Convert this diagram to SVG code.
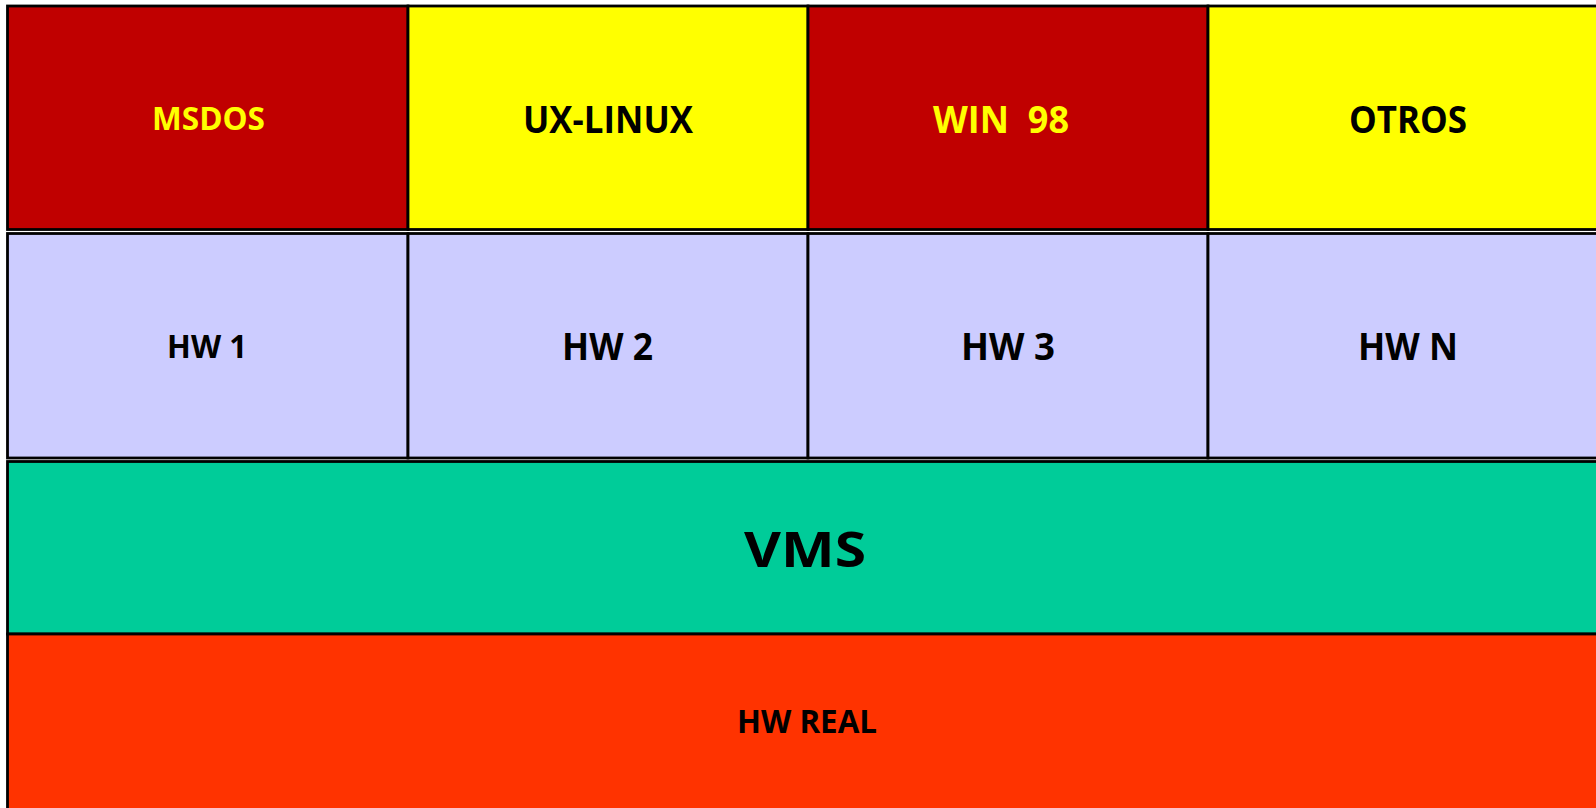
<svg xmlns="http://www.w3.org/2000/svg" width="1596" height="808" viewBox="0 0 1596 808">
<style>
.cell{stroke:#000;stroke-width:2.8}
.t{font-family:"Open Sans",Lato,"Liberation Sans",sans-serif;font-weight:bold}
.s{font-size:31.5px}
.m{font-size:37px}
.l{font-size:49px}
.dark{fill:#000}
.yel{fill:#FFFF00}
</style>
<rect width="1596" height="808" fill="#fff"/>
<g id="msdos"><rect class="cell" x="7.5" y="6" width="400.5" height="223.5" fill="#C00000"/><text class="t s yel" x="152" y="130" textLength="113" lengthAdjust="spacingAndGlyphs">MSDOS</text></g>
<g id="uxlinux"><rect class="cell" x="408" y="6" width="400" height="223.5" fill="#FFFF00"/><text class="t m dark" x="523" y="133" textLength="170" lengthAdjust="spacingAndGlyphs">UX-LINUX</text></g>
<g id="win98"><rect class="cell" x="808" y="6" width="400" height="223.5" fill="#C00000"/><text class="t m yel" x="933" y="133" textLength="136" lengthAdjust="spacingAndGlyphs" xml:space="preserve">WIN  98</text></g>
<g id="otros"><rect class="cell" x="1208" y="6" width="420" height="223.5" fill="#FFFF00"/><text class="t m dark" x="1349" y="133" textLength="118" lengthAdjust="spacingAndGlyphs">OTROS</text></g>
<g id="hw1"><rect class="cell" x="7.5" y="233.5" width="400.5" height="224.5" fill="#CCCCFF"/><text class="t s dark" x="167" y="358" textLength="80" lengthAdjust="spacingAndGlyphs">HW 1</text></g>
<g id="hw2"><rect class="cell" x="408" y="233.5" width="400" height="224.5" fill="#CCCCFF"/><text class="t m dark" x="562" y="360" textLength="91" lengthAdjust="spacingAndGlyphs">HW 2</text></g>
<g id="hw3"><rect class="cell" x="808" y="233.5" width="400" height="224.5" fill="#CCCCFF"/><text class="t m dark" x="961" y="360" textLength="94" lengthAdjust="spacingAndGlyphs">HW 3</text></g>
<g id="hwn"><rect class="cell" x="1208" y="233.5" width="420" height="224.5" fill="#CCCCFF"/><text class="t m dark" x="1358" y="360" textLength="100" lengthAdjust="spacingAndGlyphs">HW N</text></g>
<g id="vms"><rect class="cell" x="7.5" y="461.5" width="1620" height="172.5" fill="#00CC99"/><text class="t l dark" x="744" y="567" textLength="122" lengthAdjust="spacingAndGlyphs">VMS</text></g>
<g id="hwreal"><rect class="cell" x="7.5" y="634" width="1620" height="190" fill="#FF3300"/><text class="t s dark" x="737" y="733" textLength="140" lengthAdjust="spacingAndGlyphs">HW REAL</text></g>
<g id="connectors"></g>
</svg>
